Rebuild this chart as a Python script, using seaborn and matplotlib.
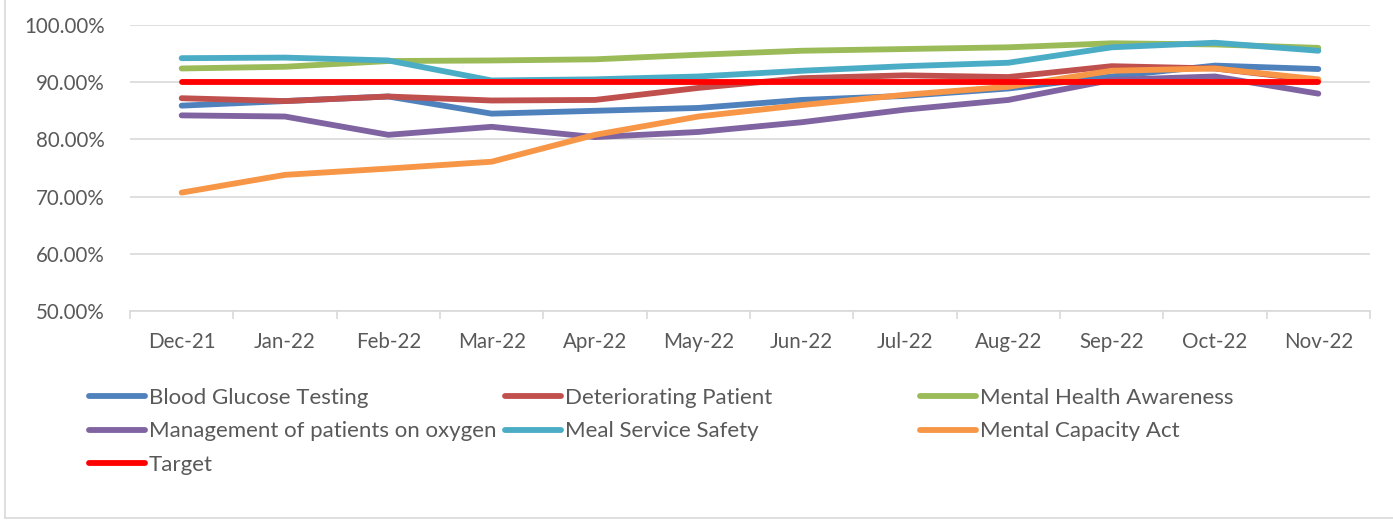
import matplotlib
matplotlib.use("Agg")
import matplotlib.pyplot as plt
import matplotlib.ticker as mticker
from matplotlib.lines import Line2D
import seaborn as sns
import pandas as pd

months = ["Dec-21", "Jan-22", "Feb-22", "Mar-22", "Apr-22", "May-22",
          "Jun-22", "Jul-22", "Aug-22", "Sep-22", "Oct-22", "Nov-22"]
blood_glucose = [85.9, 86.7, 87.5, 84.5, 85.0, 85.5, 86.9, 87.6, 88.9, 91.0, 92.9, 92.3]
deteriorating = [87.2, 86.7, 87.5, 86.8, 86.9, 89.0, 90.7, 91.2, 90.9, 92.8, 92.4, 90.3]
mental_health = [92.4, 92.7, 93.7, 93.8, 94.0, 94.8, 95.5, 95.8, 96.1, 96.8, 96.6, 96.0]
oxygen = [84.2, 84.0, 80.8, 82.2, 80.4, 81.3, 83.0, 85.2, 86.9, 90.4, 91.0, 88.0]
meal_service = [94.2, 94.3, 93.8, 90.3, 90.5, 91.0, 92.0, 92.8, 93.4, 96.1, 96.9, 95.5]
mental_capacity = [70.7, 73.8, 74.9, 76.1, 80.8, 84.0, 86.0, 87.8, 89.2, 92.0, 92.4, 90.5]
target = [90.0] * 12

series_names = ["Blood Glucose Testing", "Deteriorating Patient", "Mental Health Awareness",
                "Management of patients on oxygen", "Meal Service Safety",
                "Mental Capacity Act", "Target"]
series_values = [blood_glucose, deteriorating, mental_health, oxygen,
                 meal_service, mental_capacity, target]
colors = ["#4F81BD", "#C0504D", "#9BBB59", "#8064A2", "#4BACC6", "#F79646", "#FF0000"]

rows = []
for name, vals in zip(series_names, series_values):
    for m, v in zip(months, vals):
        rows.append({"Month": m, "Value": v, "Series": name})
df = pd.DataFrame(rows)

sns.set_theme(style="white")
plt.rcParams["font.family"] = ["Lato", "DejaVu Sans"]
text_color = "#595959"

fig = plt.figure(figsize=(13.93, 5.25), dpi=100)
ax = fig.add_axes([130 / 1393, 1 - 311 / 525, 1240 / 1393, 286 / 525])

sns.lineplot(data=df, x="Month", y="Value", hue="Series", hue_order=series_names,
             palette=dict(zip(series_names, colors)), linewidth=4.2, sort=False,
             ax=ax, legend=False)
for ln in ax.lines:
    ln.set_solid_capstyle("round")
    ln.set_solid_joinstyle("round")

ax.set_xlim(-0.5, len(months) - 0.5)
ax.set_ylim(50, 100)
ax.set_yticks([50, 60, 70, 80, 90, 100])
ax.yaxis.set_major_formatter(mticker.FuncFormatter(lambda v, p: f"{v:.2f}%"))
ax.set_xlabel("")
ax.set_ylabel("")
ax.grid(axis="y", color="#D9D9D9", linewidth=1.2)
ax.set_axisbelow(True)
for s in ["top", "right", "left"]:
    ax.spines[s].set_visible(False)
ax.spines["bottom"].set_color("#D9D9D9")
ax.spines["bottom"].set_linewidth(1.2)

ax.set_xticks(range(len(months)))
ax.set_xticklabels(months)
ax.set_xticks([i - 0.5 for i in range(len(months) + 1)], minor=True)
ax.tick_params(axis="x", which="major", length=0, pad=15, labelsize=14.8, labelcolor=text_color)
ax.tick_params(axis="x", which="minor", length=6, width=1.2, color="#D9D9D9", direction="out")
ax.tick_params(axis="y", length=0, pad=18, labelsize=14.8, labelcolor=text_color)
ax.tick_params(axis="x", bottom=True, which="both")

handles = {n: Line2D([], [], color=c, linewidth=4.2, solid_capstyle="round")
           for n, c in zip(series_names, colors)}
columns = [
    (["Blood Glucose Testing", "Management of patients on oxygen", "Target"], 89 / 1393),
    (["Deteriorating Patient", "Meal Service Safety"], 505 / 1393),
    (["Mental Health Awareness", "Mental Capacity Act"], 920 / 1393),
]
for names, xpos in columns:
    fig.legend([handles[n] for n in names], names, loc="upper left",
               bbox_to_anchor=(xpos, 1 - 388 / 525), frameon=False,
               fontsize=16, labelcolor=text_color, handlelength=2.5,
               handletextpad=0.2, labelspacing=0.6, borderaxespad=0, borderpad=0)

fig.add_artist(Line2D([4.5 / 1393, 4.5 / 1393], [1, 1 - 518 / 525],
                      transform=fig.transFigure, color="#D9D9D9", linewidth=1.2))
fig.add_artist(Line2D([4.5 / 1393, 1], [1 - 518 / 525, 1 - 518 / 525],
                      transform=fig.transFigure, color="#D9D9D9", linewidth=1.2))

fig.savefig("out.png", dpi=100, facecolor="white")
